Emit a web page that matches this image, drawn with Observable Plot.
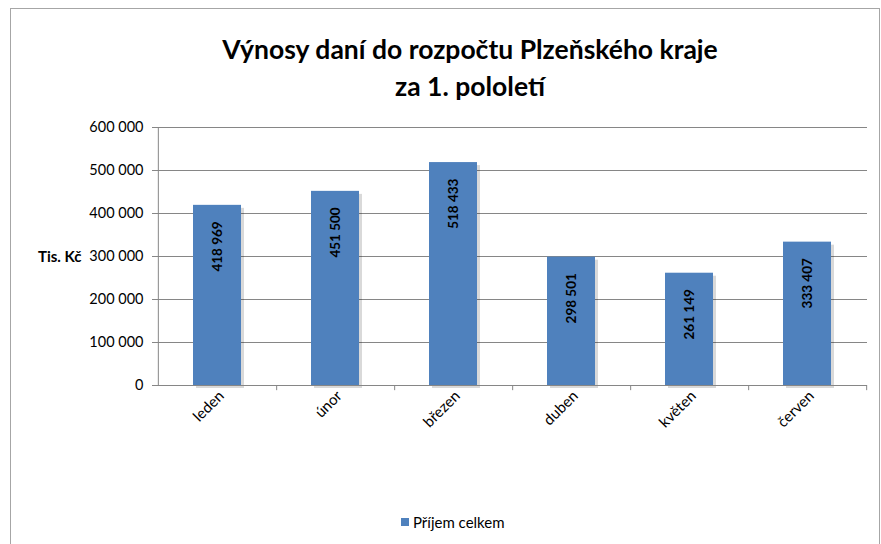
<!DOCTYPE html>
<html><head><meta charset="utf-8">
<script src="https://cdn.jsdelivr.net/npm/d3@7"></script>
<script src="https://cdn.jsdelivr.net/npm/@observablehq/plot@0.6"></script>
<style>
body{margin:0;background:#fff;font-family:Lato, "Noto Sans", sans-serif}
#wrap{position:relative;width:881px;height:544px;overflow:hidden;background:#fff}
#border{position:absolute;left:10px;top:8px;width:868px;height:545px;border:1px solid #a6a6a6;pointer-events:none}
#title{position:absolute;left:0;width:940px;top:31px;text-align:center;font-weight:bold;font-size:26.5px;line-height:37px;color:#000}
#ylab{position:absolute;left:38px;top:247px;font-weight:bold;font-size:15px;color:#000}
#legend{position:absolute;left:401px;top:513px;font-size:15px;color:#000;display:flex;align-items:center}
#legend span.sw{display:inline-block;width:8px;height:8px;background:#4F81BD;margin-right:4px}
#chart{position:absolute;left:0;top:0}
</style></head>
<body>
<div id="wrap">
  <div id="chart"></div>
  <div id="title">Výnosy daní do rozpočtu Plzeňského kraje<br>za 1. pololetí</div>
  <div id="ylab">Tis. Kč</div>
  <div id="legend"><span class="sw"></span><span id="legtext"></span></div>
  <div id="border"></div>
</div>
<script>
const months = ["leden", "únor", "březen", "duben", "květen", "červen"];
const values = [418969, 451500, 518433, 298501, 261149, 333407];
const yTicks = [0, 100000, 200000, 300000, 400000, 500000, 600000];
const seriesName = "Příjem celkem";

const data = months.map((m, i) => ({month: m, value: values[i]}));
const fmt = d => d3.format(",")(d).replace(/,/g, " ");
document.getElementById("legtext").textContent = seriesName;

const W = 881, H = 544, mL = 157, mR = 14, mT = 127, mB = 159;
const halfStep = (W - mL - mR) / months.length / 2;

const chart = Plot.plot({
  width: W, height: H,
  marginLeft: mL, marginRight: mR, marginTop: mT, marginBottom: mB,
  style: {background: "transparent", fontFamily: "Lato, 'Noto Sans', sans-serif"},
  x: {domain: months, paddingInner: 0.59, paddingOuter: 0.295, axis: null},
  y: {domain: [0, 600000], axis: null},
  marks: [
    Plot.gridY(yTicks.slice(1), {stroke: "#868686", strokeOpacity: 1}),
    Plot.barY(data, {x: "month", y: "value", fill: "#000", fillOpacity: 0.15, dx: 3, dy: 3}),
    Plot.barY(data, {x: "month", y: "value", fill: "#4F81BD"}),
    Plot.ruleY([0], {stroke: "#868686"}),
    Plot.ruleX([months[0]], {dx: -halfStep, stroke: "#868686"}),
    Plot.ruleX(months, {x: d => d, dx: halfStep, y1: 0, y2: -12000, stroke: "#868686"}),
    Plot.axisY({ticks: yTicks, tickSize: 5, tickPadding: 9, tickFormat: fmt, fontSize: 14.5, stroke: "#868686", fill: "#000", label: null}),
    Plot.axisX({tickSize: 0, tickRotate: -45, tickPadding: 8, dx: 4, fontSize: 15, fill: "#000", label: null}),
    Plot.text(data, {x: "month", y: "value", text: d => fmt(d.value), rotate: -90, textAnchor: "end", dy: 16, fontWeight: "bold", fontSize: 13.5, fill: "#000"})
  ]
});
document.getElementById("chart").appendChild(chart);
</script>
</body></html>
